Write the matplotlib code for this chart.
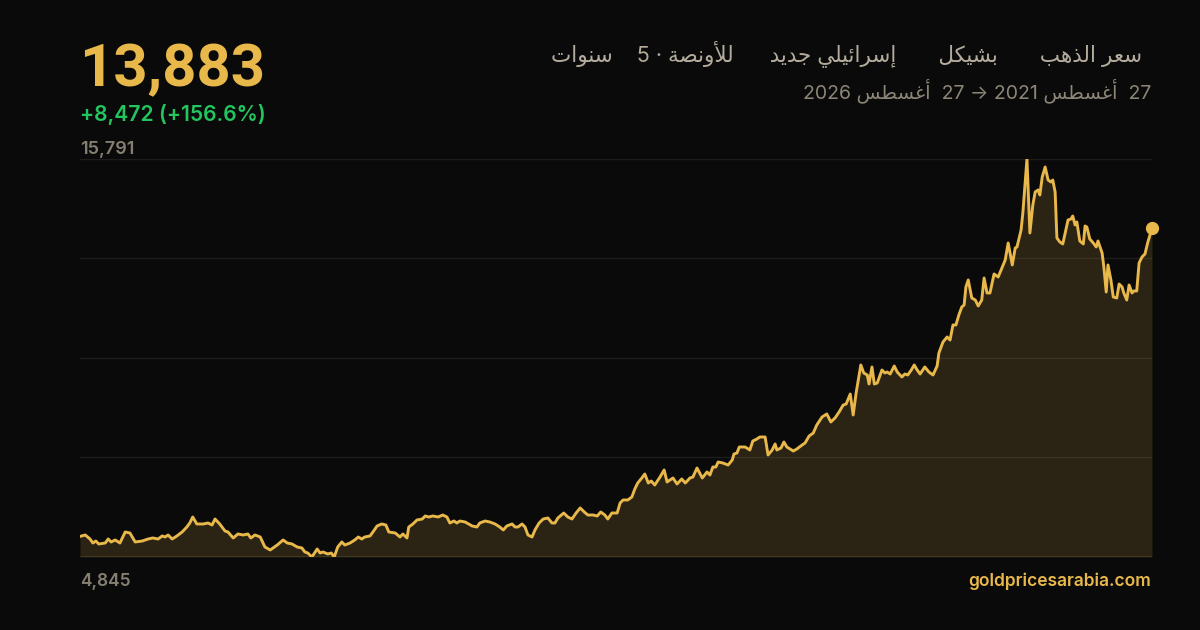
import numpy as np
import pandas as pd
import matplotlib
matplotlib.use('Agg')
import matplotlib.pyplot as plt

# price of gold in ILS per ounce (day offset from start date)
start_date = '2021-08-27'
days = [0, 9, 17, 22, 27, 32, 43, 48, 53, 60, 68, 77, 85, 94, 106, 116, 124, 133, 140, 145,
        150, 157, 165, 174, 182, 187, 192, 199, 210, 218, 225, 230, 238, 247, 252, 261, 269, 278, 286, 291,
        298, 307, 315, 324, 336, 346, 353, 361, 370, 378, 383, 388, 395, 404, 409, 414, 422, 428, 433, 439,
        446, 451, 460, 468, 474, 480, 485, 494, 499, 506, 514, 521, 526, 537, 545, 550, 557, 560, 567, 574,
        583, 588, 594, 601, 610, 618, 625, 630, 637, 642, 647, 656, 668, 676, 681, 690, 698, 707, 715, 721,
        727, 736, 741, 746, 753, 758, 763, 770, 775, 782, 789, 797, 804, 809, 814, 824, 831, 838, 845, 852,
        859, 865, 874, 881, 887, 894, 899, 906, 915, 920, 925, 933, 940, 945, 950, 957, 962, 968, 973, 979,
        988, 995, 1000, 1010, 1017, 1025, 1031, 1039, 1044, 1051, 1060, 1068, 1073, 1078, 1083, 1087, 1095, 1104, 1111, 1114,
        1119, 1123, 1133, 1141, 1146, 1153, 1158, 1167, 1172, 1179, 1184, 1187, 1194, 1199, 1204, 1215, 1221, 1230, 1235, 1242,
        1249, 1255, 1264, 1272, 1279, 1286, 1293, 1300, 1305, 1312, 1317, 1322, 1330, 1335, 1341, 1344, 1349, 1353, 1358, 1366,
        1371, 1375, 1380, 1387, 1392, 1400, 1405, 1410, 1416, 1421, 1426, 1431, 1439, 1446, 1453, 1460, 1463, 1470, 1477, 1482,
        1487, 1492, 1497, 1502, 1506, 1509, 1513, 1519, 1525, 1530, 1536, 1540, 1545, 1550, 1557, 1564, 1571, 1576, 1581, 1588,
        1593, 1596, 1603, 1606, 1613, 1618, 1623, 1627, 1632, 1635, 1639, 1644, 1649, 1654, 1657, 1661, 1664, 1669, 1674, 1680,
        1683, 1688, 1691, 1695, 1698, 1703, 1709, 1712, 1715, 1720, 1726, 1731, 1734, 1741, 1744, 1748, 1751, 1756, 1760, 1766,
        1770, 1775, 1778, 1783, 1787, 1792, 1795, 1800, 1804, 1809, 1814, 1819, 1826]
prices = [5411, 5450, 5340, 5230, 5285, 5203, 5230, 5340, 5258, 5313, 5230, 5533, 5505, 5258, 5285, 5340, 5368, 5340, 5423, 5395,
          5450, 5340, 5423, 5533, 5670, 5780, 5945, 5753, 5753, 5780, 5725, 5890, 5753, 5560, 5533, 5368, 5478, 5450, 5478, 5368,
          5450, 5395, 5120, 5038, 5175, 5313, 5230, 5203, 5120, 5093, 4983, 4955, 4845, 5065, 4955, 4983, 4928, 4955, 4845, 5120,
          5258, 5175, 5230, 5313, 5395, 5340, 5395, 5423, 5533, 5698, 5753, 5725, 5533, 5505, 5395, 5478, 5368, 5670, 5753, 5863,
          5890, 5973, 5945, 5973, 5945, 6000, 5945, 5780, 5835, 5780, 5835, 5808, 5698, 5670, 5780, 5835, 5808, 5753, 5670, 5588,
          5698, 5753, 5670, 5670, 5753, 5670, 5450, 5395, 5588, 5780, 5890, 5918, 5780, 5780, 5918, 6055, 5945, 5890, 6055, 6193,
          6083, 6000, 6000, 5973, 6083, 6000, 5890, 6055, 6055, 6330, 6413, 6413, 6495, 6715, 6880, 7018, 7128, 6880, 6935, 6825,
          7045, 7238, 6908, 7018, 6853, 6990, 6880, 7018, 7045, 7293, 7018, 7183, 7100, 7320, 7320, 7458, 7430, 7375, 7513, 7678,
          7705, 7870, 7870, 7788, 8035, 8090, 8145, 8145, 7650, 7788, 7953, 7788, 7843, 8008, 7870, 7760, 7815, 7925, 7980, 8173,
          8255, 8475, 8695, 8778, 8558, 8668, 8833, 9025, 9053, 9328, 8750, 9355, 10126, 9906, 9851, 9603, 10071, 9603, 9631, 9988,
          9906, 9933, 9878, 10098, 9933, 9796, 9878, 9851, 9988, 10126, 9988, 9878, 10071, 9933, 9851, 10098, 10456, 10758, 10896, 10813,
          11226, 11226, 11501, 11721, 11776, 12271, 12464, 11968, 11913, 11749, 11913, 12519, 12106, 12106, 12629, 12546, 12821, 13014, 13481, 12876,
          13343, 13371, 13839, 14306, 15791, 13756, 14526, 14884, 14939, 14801, 15296, 15571, 15213, 15158, 15213, 14884, 13619, 13509, 13454, 13894,
          14114, 14141, 14223, 13976, 14059, 13536, 13454, 13949, 13921, 13591, 13481, 13371, 13536, 13206, 12821, 12133, 12876, 12464, 11996, 11968,
          12353, 12271, 12106, 11913, 12326, 12106, 12161, 12161, 12931, 13096, 13178, 13509, 13883]

title_text = 'سعر الذهب       بشيكل       إسرائيلي جديد      للأونصة · 5    سنوات'
range_text = '27  أغسطس 2021 → 27  أغسطس 2026'
y_min, y_max = 4845, 15791

# --- minimal arabic shaping (matplotlib has no complex text layout) ---
FORMS = {
    'ا': (0xFE8D, 0xFE8E, None, None), 'أ': (0xFE83, 0xFE84, None, None),
    'إ': (0xFE87, 0xFE88, None, None), 'ئ': (0xFE89, 0xFE8A, 0xFE8B, 0xFE8C),
    'ب': (0xFE8F, 0xFE90, 0xFE91, 0xFE92), 'ة': (0xFE93, 0xFE94, None, None),
    'ت': (0xFE95, 0xFE96, 0xFE97, 0xFE98), 'ج': (0xFE9D, 0xFE9E, 0xFE9F, 0xFEA0),
    'د': (0xFEA9, 0xFEAA, None, None), 'ذ': (0xFEAB, 0xFEAC, None, None),
    'ر': (0xFEAD, 0xFEAE, None, None), 'س': (0xFEB1, 0xFEB2, 0xFEB3, 0xFEB4),
    'ش': (0xFEB5, 0xFEB6, 0xFEB7, 0xFEB8), 'ص': (0xFEB9, 0xFEBA, 0xFEBB, 0xFEBC),
    'ط': (0xFEC1, 0xFEC2, 0xFEC3, 0xFEC4), 'ع': (0xFEC9, 0xFECA, 0xFECB, 0xFECC),
    'غ': (0xFECD, 0xFECE, 0xFECF, 0xFED0), 'ك': (0xFED9, 0xFEDA, 0xFEDB, 0xFEDC),
    'ل': (0xFEDD, 0xFEDE, 0xFEDF, 0xFEE0), 'ن': (0xFEE5, 0xFEE6, 0xFEE7, 0xFEE8),
    'ه': (0xFEE9, 0xFEEA, 0xFEEB, 0xFEEC), 'و': (0xFEED, 0xFEEE, None, None),
    'ي': (0xFEF1, 0xFEF2, 0xFEF3, 0xFEF4),
}
LAM_ALEF = {'ا': (0xFEFB, 0xFEFC), 'أ': (0xFEF7, 0xFEF8), 'إ': (0xFEF9, 0xFEFA)}


def shape_word(word):
    toks = []
    i = 0
    while i < len(word):
        c = word[i]
        if c == 'ل' and i + 1 < len(word) and word[i + 1] in LAM_ALEF:
            f = LAM_ALEF[word[i + 1]]
            toks.append((f[0], f[1], None, None))
            i += 2
        else:
            toks.append(FORMS[c])
            i += 1
    out = []
    for k, f in enumerate(toks):
        prev_joins = k > 0 and toks[k - 1][2] is not None
        next_joins = f[2] is not None and k + 1 < len(toks)
        if prev_joins and next_joins:
            code = f[3]
        elif prev_joins:
            code = f[1]
        elif next_joins:
            code = f[2]
        else:
            code = f[0]
        out.append(chr(code))
    return ''.join(out)


def rtl(text):
    parts = text.split(' ')
    vis = []
    for p in parts:
        if p and all(ch in FORMS for ch in p):
            vis.append(shape_word(p)[::-1])
        else:
            vis.append(p)
    return ' '.join(reversed(vis))


bg = '#0a0a0a'
gold = '#e8b84b'
green = '#22c55e'
muted = '#857f72'

dates = pd.to_datetime(start_date) + pd.to_timedelta(days, unit='D')
x = np.array(days)
y = np.array(prices)

fig = plt.figure(figsize=(12, 6.3), dpi=100, facecolor=bg)
ax = fig.add_axes([80 / 1200, 73 / 630, 1072 / 1200, 398 / 630])
ax.set_facecolor(bg)

for g in np.linspace(y_min, y_max, 5)[1:]:
    ax.axhline(g, color='#1e1d1b', lw=1, zorder=1)
ax.axhline(y_min, color='#2a2720', lw=1.2, zorder=1)

ax.fill_between(x, y, y_min, color=gold, alpha=0.15, lw=0, zorder=2)
ax.plot(x, y, color=gold, lw=2.1, solid_joinstyle='round', zorder=3)
ax.plot(x[-1], y[-1], 'o', color=gold, ms=8.5, zorder=4, clip_on=False)

ax.set_xlim(0, days[-1])
ax.set_ylim(y_min, y_max)
ax.axis('off')

def px(xp, yp):
    return xp / 1200, 1 - yp / 630

num_font = ['Inter', 'DejaVu Sans']
fig.text(*px(79, 86), f'{prices[-1]:,}', color=gold, fontsize=43, fontweight='bold',
         family=['Roboto', 'DejaVu Sans'], ha='left', va='baseline')
chg = prices[-1] - prices[0]
pct = chg / prices[0] * 100
fig.text(*px(80, 121), f'+{chg:,} (+{pct:.1f}%)', color=green, fontsize=15.2, fontweight='semibold',
         family=num_font, ha='left', va='baseline')
fig.text(*px(80, 154), f'{y_max:,}', color=muted, fontsize=13, fontweight='semibold',
         family=num_font, ha='left', va='baseline')
fig.text(*px(80, 586), f'{y_min:,}', color=muted, fontsize=12.5, fontweight='semibold',
         family=num_font, ha='left', va='baseline')
fig.text(*px(1151, 586), 'goldpricesarabia.com', color=gold, fontsize=12.5, fontweight='semibold',
         family=num_font, ha='right', va='baseline')

fig.text(*px(1142, 61), rtl(title_text), color='#b3ab9c', fontsize=15.5,
         family=num_font, ha='right', va='baseline')
fig.text(*px(1151, 98), rtl(range_text), color='#8c8677', fontsize=14,
         family=num_font, ha='right', va='baseline')

fig.savefig('out.png', dpi=100, facecolor=bg)
